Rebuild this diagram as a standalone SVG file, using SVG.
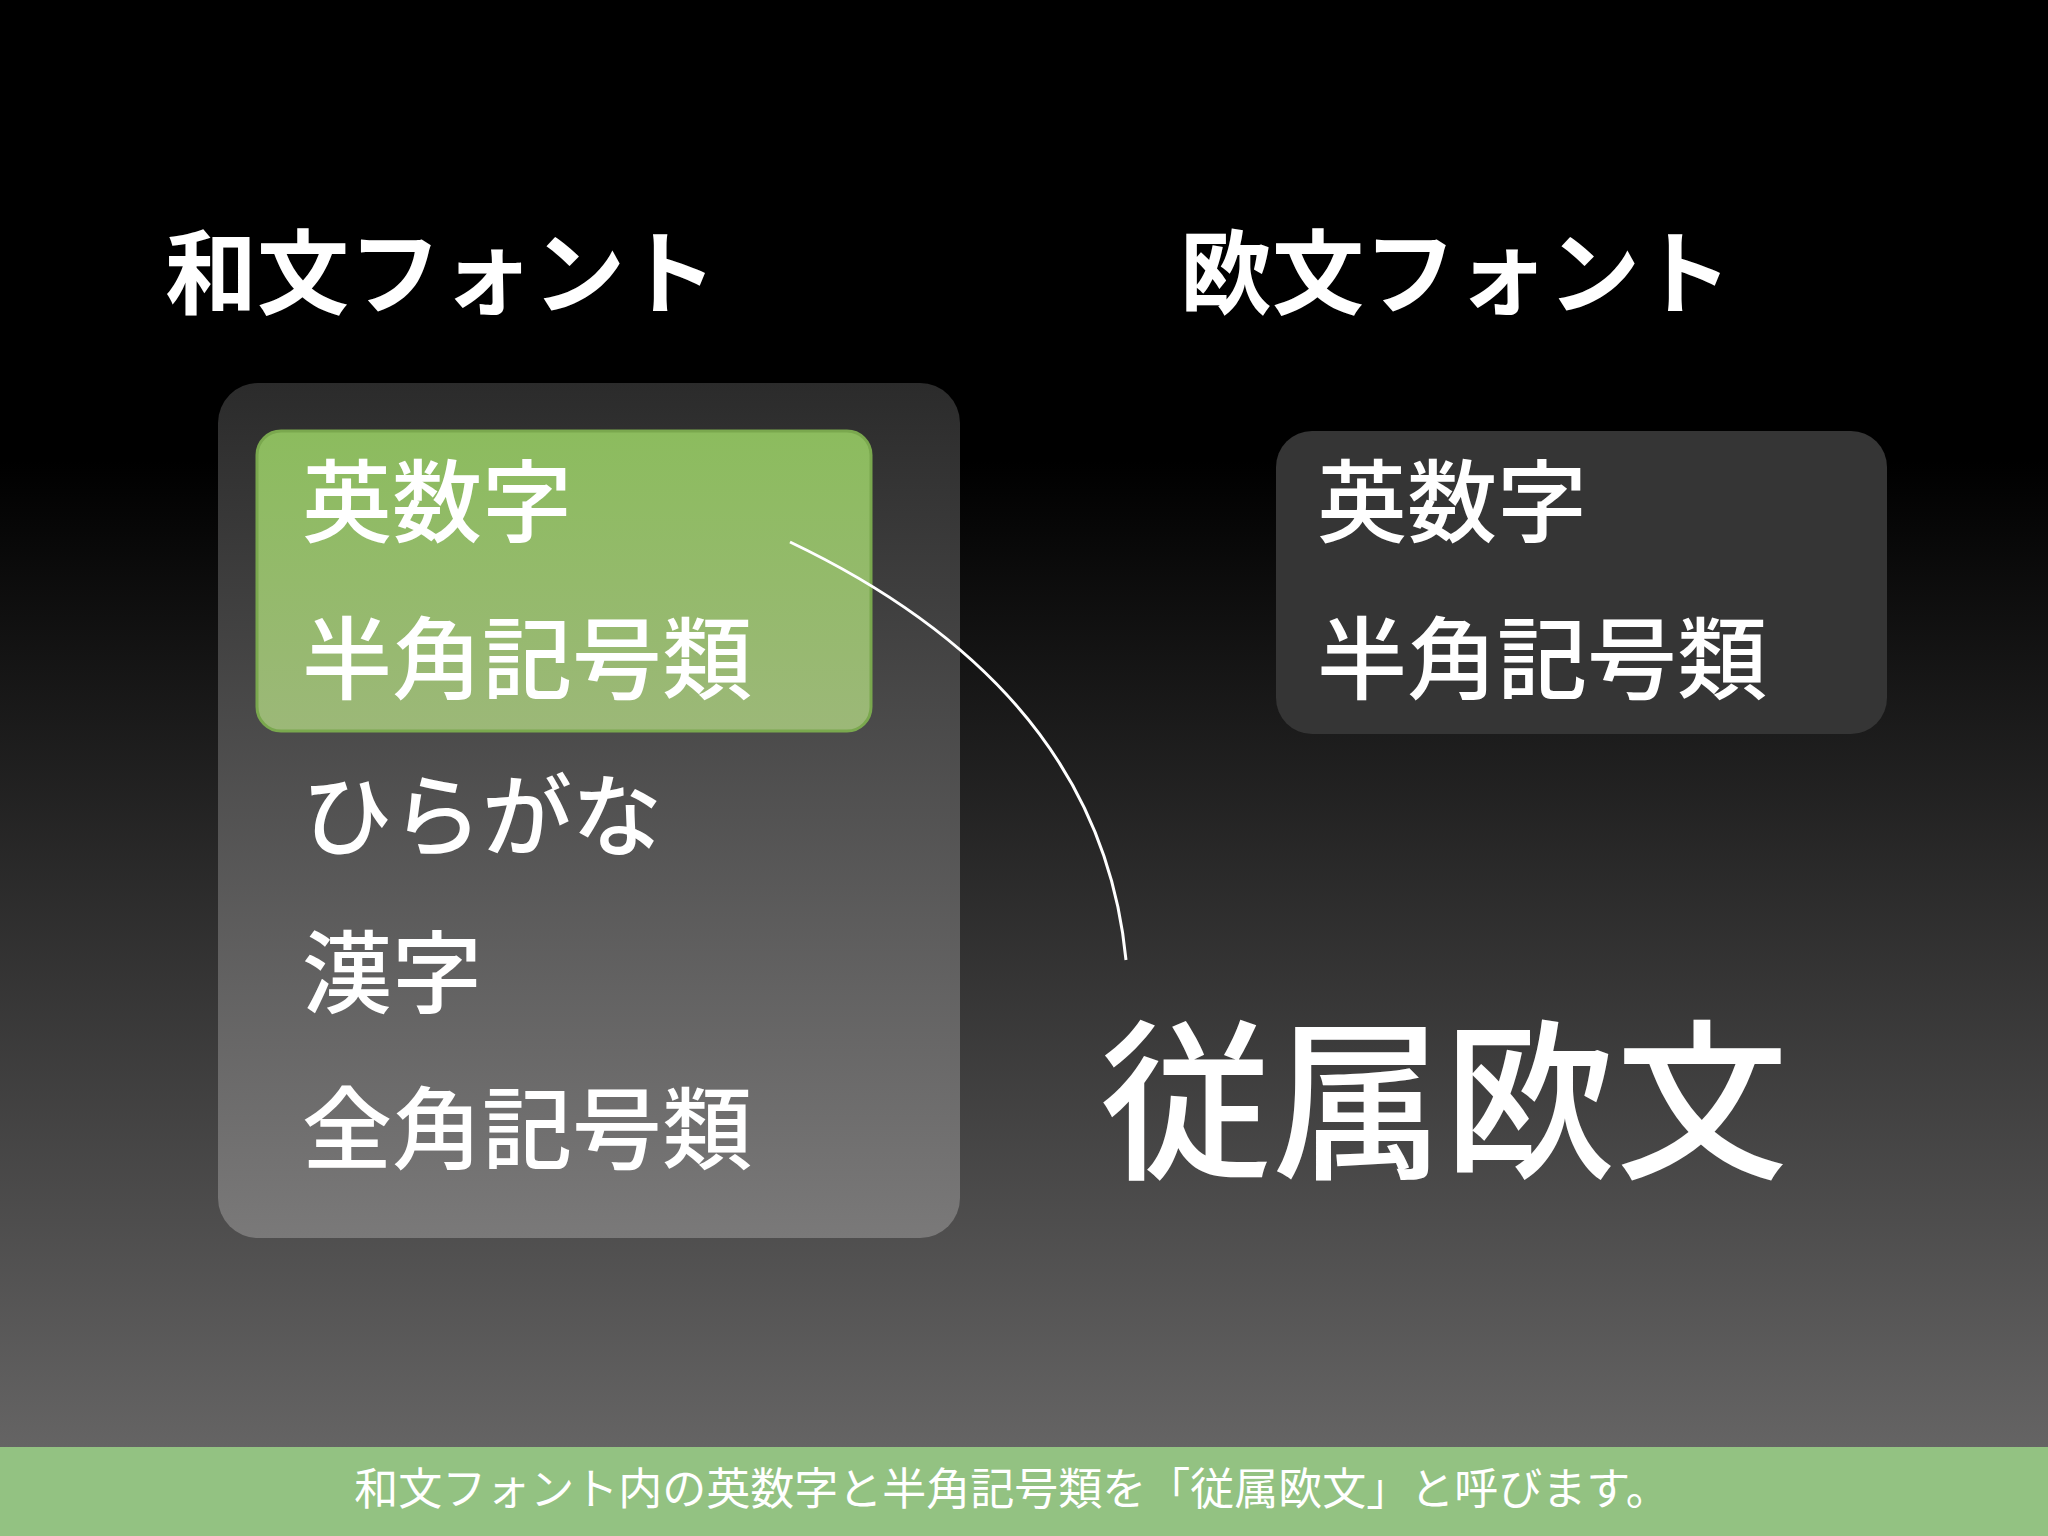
<svg xmlns="http://www.w3.org/2000/svg" width="2048" height="1536" viewBox="0 0 2048 1536">
<defs>
<linearGradient id="bg" x1="0" y1="0" x2="0" y2="1"><stop offset="0" stop-color="#000"/><stop offset="0.3" stop-color="#000"/><stop offset="1" stop-color="#6e6d6d"/></linearGradient>
<linearGradient id="lb" x1="0" y1="0" x2="0" y2="1"><stop offset="0" stop-color="#2b2b2b"/><stop offset="1" stop-color="#7a7979"/></linearGradient>
<linearGradient id="gr" x1="0" y1="0" x2="0" y2="1"><stop offset="0" stop-color="#8cbc5e"/><stop offset="1" stop-color="#9cb878"/></linearGradient>
<style>
text{font-family:"Noto Sans CJK JP","Noto Sans",sans-serif;fill:#fff}
.t{font-size:92px;font-weight:bold}
.i{font-size:90px;font-weight:500}
</style>
</defs>
<rect width="2048" height="1536" fill="url(#bg)"/>
<g id="title-left"><text class="t" x="165" y="307">和文フォント</text></g>
<g id="title-right"><text class="t" x="1180" y="307">欧文フォント</text></g>
<g id="left-box">
<rect x="218" y="383" width="742" height="855" rx="40" fill="url(#lb)"/>
<rect x="257" y="431" width="614" height="300" rx="24" fill="url(#gr)" stroke="#7aa84e" stroke-width="3"/>
<text class="i" x="302" y="535">英数字</text>
<text class="i" x="302" y="692">半角記号類</text>
<text class="i" x="302" y="849">ひらがな</text>
<text class="i" x="302" y="1006">漢字</text>
<text class="i" x="302" y="1162">全角記号類</text>
</g>
<g id="right-box">
<rect x="1276" y="431" width="611" height="303" rx="36" fill="#353535"/>
<text class="i" x="1317" y="535">英数字</text>
<text class="i" x="1317" y="692">半角記号類</text>
</g>
<g id="connectors"><path d="M790,542 Q1100,690 1126,960" fill="none" stroke="#fff" stroke-width="3"/></g>
<g id="label"><text x="1100" y="1165" font-size="172" font-weight="500">従属欧文</text></g>
<g id="caption">
<rect x="0" y="1447" width="2048" height="89" fill="#93c282"/>
<text x="1012" y="1505" font-size="44" text-anchor="middle">和文フォント内の英数字と半角記号類を「従属欧文」と呼びます。</text>
</g>
</svg>
